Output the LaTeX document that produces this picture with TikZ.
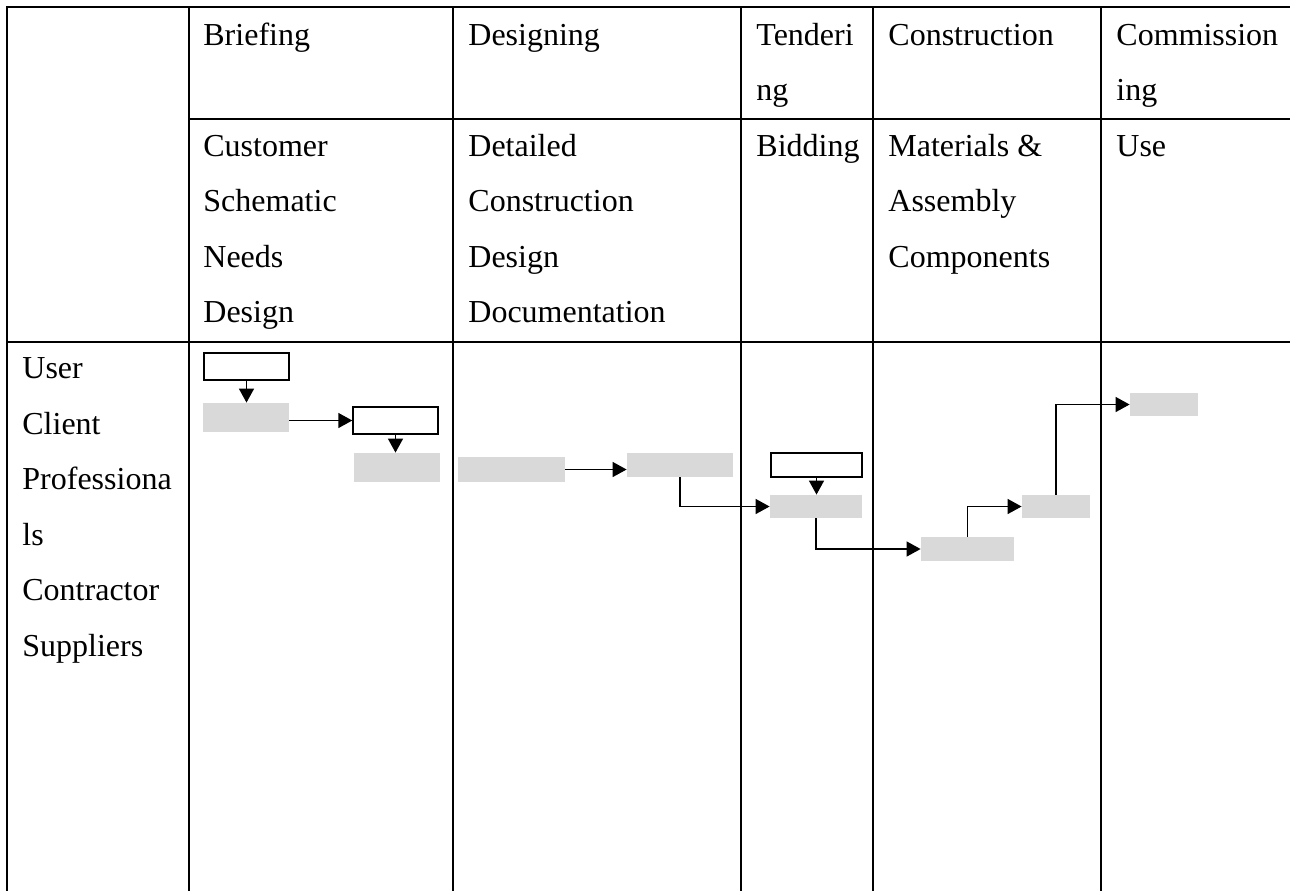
\documentclass[tikz,border=0pt]{standalone}
\usepackage{fontspec}
\setmainfont{Liberation Serif}
\usetikzlibrary{arrows.meta,fit}
\definecolor{boxgray}{HTML}{D9D9D9}
\tikzset{
  grid/.style={line width=0.9pt, line cap=rect},
  lbl/.style={anchor=base west, inner sep=0pt, font=\fontsize{16}{19}\selectfont},
  gbox/.style={fill=boxgray, draw=none, inner sep=0pt},
  wbox/.style={fill=white, draw=black, line width=0.7pt, inner sep=0pt},
  arr/.style={line width=0.7pt, -{Triangle[length=7pt,width=7.5pt]}},
}
\begin{document}
\begin{tikzpicture}[x=0.5pt,y=-0.5pt]
\useasboundingbox (0,0) rectangle (1290,890);
% grid
\coordinate (tl) at (7,7);
\coordinate (tr) at (1290,7);
\draw[grid] (7,890) -- (tl) -- (tr);
\draw[grid] (189,119) -- (1290,119);
\draw[grid] (7,342) -- (1290,342);
\foreach \x in {189,453,741,873,1101} \draw[grid] (\x,7) -- (\x,890);
% header row 1
\node[lbl] (h1) at (203,45) {Briefing};
\node[lbl] (h2) at (468,45) {Designing};
\node[lbl] (h3a) at (756,45) {Tenderi};
\node[lbl] (h3b) at (756,100) {ng};
\node[lbl] (h4) at (888,45) {Construction};
\node[lbl] (h5a) at (1116,45) {Commission};
\node[lbl] (h5b) at (1116,100) {ing};
% header row 2
\node[lbl] (s1a) at (203,156) {Customer};
\node[lbl] (s1b) at (203,211) {Schematic};
\node[lbl] (s1c) at (203,267) {Needs};
\node[lbl] (s1d) at (203,322) {Design};
\node[lbl] (s2a) at (468,156) {Detailed};
\node[lbl] (s2b) at (468,211) {Construction};
\node[lbl] (s2c) at (468,267) {Design};
\node[lbl] (s2d) at (468,322) {Documentation};
\node[lbl] (s3) at (756,156) {Bidding};
\node[lbl] (s4a) at (888,156) {Materials \&};
\node[lbl] (s4b) at (888,211) {Assembly};
\node[lbl] (s4c) at (888,267) {Components};
\node[lbl] (s5) at (1116,156) {Use};
% row labels
\node[lbl] (r1) at (22,378) {User};
\node[lbl] (r2) at (22,434) {Client};
\node[lbl] (r3) at (22,489) {Professiona};
\node[lbl] (r4) at (22,545) {ls};
\node[lbl] (r5) at (22,600) {Contractor};
\node[lbl] (r6) at (22,656) {Suppliers};
% boxes
\node[wbox, fit={(204,353) (289,380)}] (W1) {};
\node[gbox, fit={(203,403) (289,432)}] (A) {};
\node[wbox, fit={(353,407) (438,434)}] (W2) {};
\node[gbox, fit={(354,453) (440,482)}] (B) {};
\node[gbox, fit={(458,457) (565,482)}] (C) {};
\node[gbox, fit={(627,453) (733,477)}] (D) {};
\node[wbox, fit={(771,453) (862,477)}] (W3) {};
\node[gbox, fit={(770,495) (862,518)}] (E) {};
\node[gbox, fit={(921,537) (1014,561)}] (F) {};
\node[gbox, fit={(1022,495) (1090,518)}] (G) {};
\node[gbox, fit={(1130,393) (1198,416)}] (H) {};
% connectors
\draw[arr] (W1.south) -- (W1.south |- A.north);
\draw[arr] (A.east |- W2.west) -- (W2.west);
\draw[arr] (W2.south) -- (W2.south |- B.north);
\draw[arr] (C.east) -- (C.east -| D.west);
\draw[arr] (D.south) |- (E.west);
\draw[arr] (W3.south) -- (W3.south |- E.north);
\draw[arr] (E.south) |- (F.west);
\draw[arr] (F.north) |- (G.west);
\draw[arr] (G.north) |- (H.west);
\end{tikzpicture}
\end{document}
